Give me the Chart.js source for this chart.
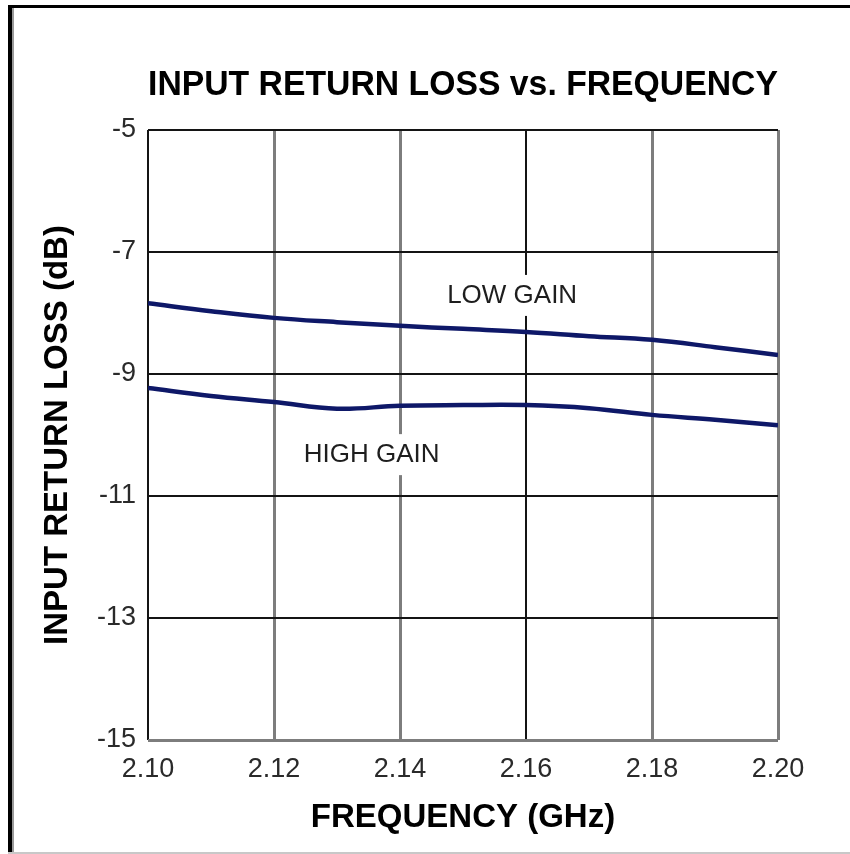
<!DOCTYPE html>
<html>
<head>
<meta charset="utf-8">
<title>Input Return Loss vs. Frequency</title>
<script src="https://cdn.jsdelivr.net/npm/chart.js@4.4.1/dist/chart.umd.min.js"></script>
<style>
    html, body { margin: 0; padding: 0; background: #fff; }
    #wrap { width: 850px; height: 854px; }
</style>
</head>
<body>
<div id="wrap"><canvas id="returnLossChart" width="850" height="854"></canvas></div>
<script>
// Frequency points (GHz)
const frequency = [2.10, 2.11, 2.12, 2.13, 2.14, 2.15, 2.16, 2.17, 2.18, 2.19, 2.20];

// Input return loss (dB)
const lowGain = [-7.84, -7.97, -8.08, -8.15, -8.21, -8.26, -8.31, -8.38, -8.44, -8.56, -8.69];
const highGain = [-9.23, -9.36, -9.46, -9.57, -9.52, -9.51, -9.51, -9.56, -9.67, -9.75, -9.84];

// Curve labels and where they sit (data units)
const curveLabels = ['LOW GAIN', 'HIGH GAIN'];
const labelFreq = [2.1578, 2.1355];
const labelLoss = [-7.72, -10.33];

const FONT = '"Liberation Sans", Arial, Helvetica, sans-serif';
const LINE_COLOR = 'rgb(14, 24, 104)';
const GRID_BLACK = '#141414';
const GRID_GREY = '#7d7d7d';

function toPoints(values) {
    return frequency.map((f, i) => ({ x: f, y: values[i] }));
}

// white page + the scanned frame (black left/top, light bottom edge)
const framePlugin = {
    id: 'frame',
    beforeDraw(chart) {
        const ctx = chart.ctx;
        ctx.save();
        ctx.fillStyle = '#fff';
        ctx.fillRect(0, 0, chart.width, chart.height);
        ctx.fillStyle = '#000';
        ctx.fillRect(8, 5, chart.width - 8, 3);
        ctx.fillRect(8, 5, 4, chart.height - 5);
        ctx.fillStyle = '#9a9a9a';
        ctx.fillRect(12, 8, 2, chart.height - 8);
        ctx.fillStyle = '#c8c8c8';
        ctx.fillRect(8, chart.height - 2, chart.width - 8, 2);
        ctx.restore();
    }
};

// curve labels, each with a white patch that breaks the grid line behind it
const curveLabelPlugin = {
    id: 'curveLabels',
    beforeDatasetsDraw(chart) {
        const ctx = chart.ctx;
        const xs = chart.scales.x;
        const ys = chart.scales.y;
        ctx.save();
        ctx.font = '26px ' + FONT;
        ctx.textAlign = 'center';
        ctx.textBaseline = 'middle';
        curveLabels.forEach((text, i) => {
            const px = xs.getPixelForValue(labelFreq[i]);
            const py = ys.getPixelForValue(labelLoss[i]);
            const w = ctx.measureText(text).width;
            ctx.fillStyle = '#fff';
            ctx.fillRect(px - w / 2 - 4, py - 21, w + 8, 41);
            ctx.fillStyle = '#1e1e1e';
            ctx.fillText(text, px, py);
        });
        ctx.restore();
    }
};

function xGridColor(ctx) {
    const v = Math.round(ctx.tick.value * 100);
    return (v === 210 || v === 216) ? GRID_BLACK : GRID_GREY;
}

function xGridWidth(ctx) {
    const v = Math.round(ctx.tick.value * 100);
    return (v === 210 || v === 216) ? 2 : 3;
}

const chart = new Chart(document.getElementById('returnLossChart'), {
    type: 'line',
    data: {
        datasets: [{
            label: 'LOW GAIN',
            data: toPoints(lowGain),
            borderColor: LINE_COLOR,
            borderWidth: 4.5,
            pointRadius: 0,
            tension: 0.4,
            fill: false
        }, {
            label: 'HIGH GAIN',
            data: toPoints(highGain),
            borderColor: LINE_COLOR,
            borderWidth: 4.5,
            pointRadius: 0,
            tension: 0.4,
            fill: false
        }]
    },
    options: {
        responsive: false,
        animation: false,
        devicePixelRatio: 1,
        layout: {
            padding: { left: 0, right: 72, top: 0, bottom: 0 }
        },
        plugins: {
            legend: { display: false },
            tooltip: { enabled: false },
            title: {
                display: true,
                text: 'INPUT RETURN LOSS vs. FREQUENCY',
                fullSize: false,
                color: '#000',
                font: { family: FONT, size: 35, weight: 'bold' },
                padding: { top: 64, bottom: 24 }
            }
        },
        scales: {
            x: {
                type: 'linear',
                min: 2.10,
                max: 2.20,
                border: { display: false },
                grid: {
                    color: xGridColor,
                    lineWidth: xGridWidth,
                    drawTicks: false
                },
                ticks: {
                    stepSize: 0.02,
                    padding: 13,
                    color: '#2a2a2a',
                    font: { family: FONT, size: 27 },
                    maxRotation: 0,
                    callback: value => value.toFixed(2)
                },
                title: {
                    display: true,
                    text: 'FREQUENCY (GHz)',
                    color: '#000',
                    font: { family: FONT, size: 33, weight: 'bold' },
                    padding: { top: 0, bottom: 16 }
                },
                afterFit(scale) {
                    scale.height = 114;
                }
            },
            y: {
                type: 'linear',
                min: -15,
                max: -5,
                border: { display: false },
                grid: {
                    color: ctx => ctx.tick.value === -15 ? GRID_GREY : GRID_BLACK,
                    lineWidth: ctx => ctx.tick.value === -15 ? 3 : 2,
                    drawTicks: false
                },
                ticks: {
                    stepSize: 2,
                    padding: 12,
                    color: '#2a2a2a',
                    font: { family: FONT, size: 27 }
                },
                title: {
                    display: true,
                    text: 'INPUT RETURN LOSS (dB)',
                    color: '#000',
                    font: { family: FONT, size: 33, weight: 'bold' },
                    padding: { top: 38, bottom: 0 }
                },
                afterFit(scale) {
                    scale.width = 148;
                }
            }
        }
    },
    plugins: [framePlugin, curveLabelPlugin]
});
</script>
</body>
</html>
